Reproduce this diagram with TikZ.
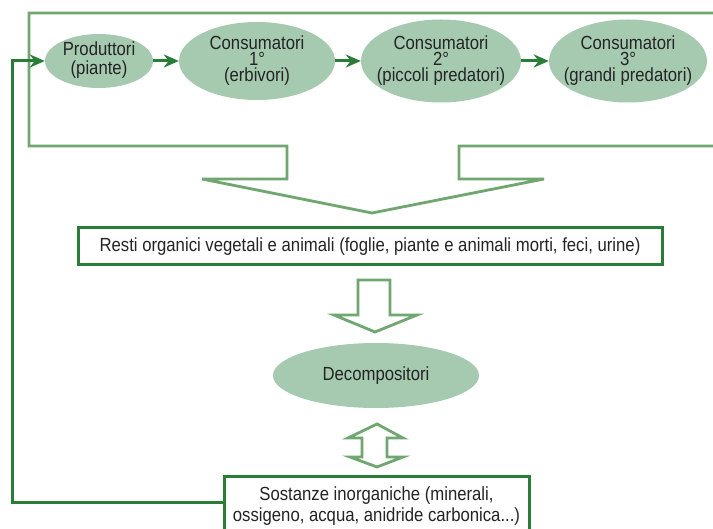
\documentclass[tikz,border=0pt]{standalone}
\usepackage{fontspec}
\setmainfont{Liberation Sans}[FakeStretch=0.88]
\usetikzlibrary{shapes.geometric,arrows.meta}
\definecolor{ellfill}{HTML}{A5CAB0}
\definecolor{lightline}{HTML}{70A670}
\definecolor{darkgreen}{HTML}{2A7D36}
\definecolor{txt}{HTML}{242424}
\tikzset{
  ell/.style={ellipse, fill=ellfill, draw=none, inner sep=0pt},
  lbl/.style={text=txt, font=\fontsize{19}{16}\selectfont, align=center, inner sep=0pt},
  darkbox/.style={draw=darkgreen, line width=3pt, fill=white, text=txt, font=\fontsize{19}{20}\selectfont, align=center, inner sep=0pt},
  flow/.style={draw=darkgreen, line width=3pt, -{Stealth[length=15pt,width=13pt]}},
  hollow/.style={draw=lightline, line width=2.8pt, fill=white, line join=miter},
}
\begin{document}
\begin{tikzpicture}[x=1pt,y=-1pt]
\useasboundingbox (0,0) rectangle (713,529);
\fill[white] (0,0) rectangle (713,529);
% big open arrow outline
\draw[lightline, line width=2.8pt, line join=miter]
  (720,13) -- (29,13) -- (29,146) -- (287,146) -- (287,179) -- (202,179)
  -- (372,213) -- (544,179) -- (459,179) -- (459,146) -- (720,146);
% ellipses
\node[ell, minimum width=108pt, minimum height=54pt] (p) at (99,61) {};
\node[lbl, font=\fontsize{19}{19.5}\selectfont] at ([yshift=1pt]p.center) {Produttori\\(piante)};
\node[ell, minimum width=156pt, minimum height=78pt] (c1) at (257,61) {};
\node[lbl] at (c1) {Consumatori\\1°\\(erbivori)};
\node[ell, minimum width=160pt, minimum height=83pt] (c2) at (441,61) {};
\node[lbl] at (c2) {Consumatori\\2°\\(piccoli predatori)};
\node[ell, minimum width=158pt, minimum height=83pt] (c3) at (628,61) {};
\node[lbl] at (c3) {Consumatori\\3°\\(grandi predatori)};
\draw[flow] (p) -- (c1);
\draw[flow] (c1) -- (c2);
\draw[flow] (c2) -- (c3);
% boxes
\node[darkbox, minimum width=584pt, minimum height=37pt] (r) at (370,246.5)
  {Resti organici vegetali e animali (foglie, piante e animali morti, feci, urine)};
\node[ell, minimum width=206pt, minimum height=65pt] (d) at (376,375.5) {};
\node[lbl] at (d) {Decompositori};
\node[darkbox, minimum width=305pt, minimum height=60pt] (s) at (376.5,507) {};
\node[lbl, font=\fontsize{19}{21}\selectfont] at (376.5,506) {Sostanze inorganiche (minerali,\\ossigeno, acqua, anidride carbonica...)};
% hollow arrows
\draw[hollow] (358,280) -- (390,280) -- (390,315) -- (417,315) -- (375,332)
  -- (334,315) -- (358,315) -- cycle;
\draw[hollow] (377,424) -- (403,438) -- (387,438) -- (387,457) -- (403,457)
  -- (377,467) -- (350,457) -- (362,457) -- (362,438) -- (348,438) -- cycle;
% feedback
\coordinate (fb) at (12,503);
\draw[flow] (s.west |- fb) -- (fb) |- (p.west);
\end{tikzpicture}
\end{document}
